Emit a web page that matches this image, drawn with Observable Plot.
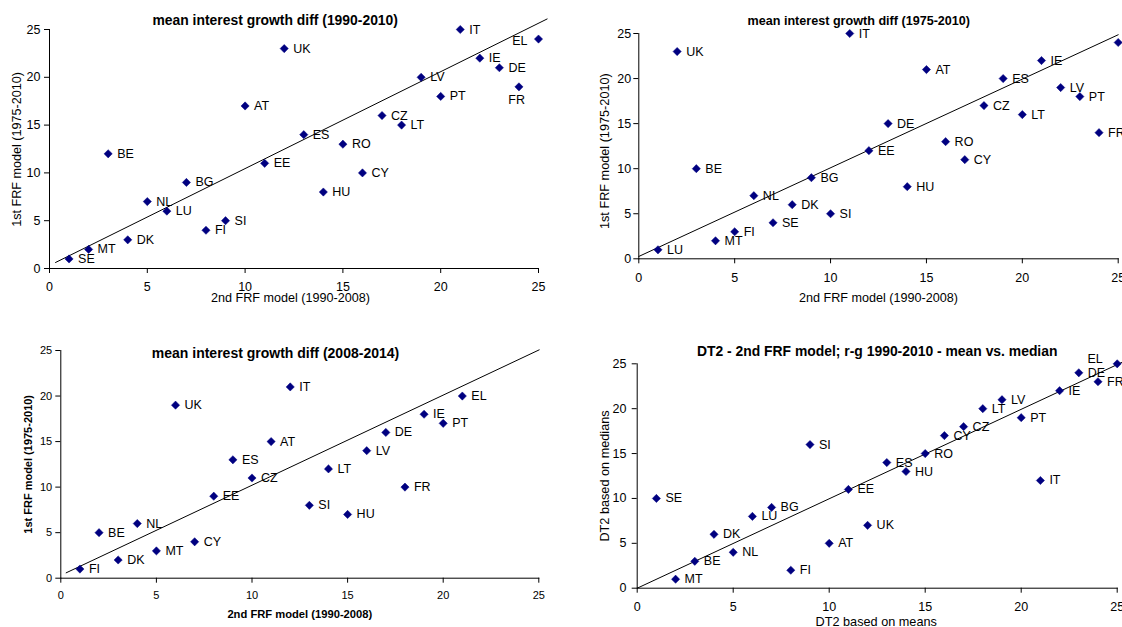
<!DOCTYPE html>
<html>
<head>
<meta charset="utf-8">
<script src="https://cdn.jsdelivr.net/npm/d3@7"></script>
<script src="https://cdn.jsdelivr.net/npm/@observablehq/plot@0.6"></script>
<style>
  html, body { margin: 0; padding: 0; background: #fff; }
  #wrap { position: relative; width: 1122px; height: 627px; overflow: hidden; background: #fff; }
  .panel { position: absolute; }
</style>
</head>
<body>
<div id="wrap"></div>
<script>
// ---------- DATA ----------
const ticks = [0, 5, 10, 15, 20, 25];

// Panel 1: mean interest growth diff (1990-2010)
const countries1 = ["SE","MT","BE","DK","NL","LU","BG","FI","SI","AT","EE","UK","ES","HU","RO","CY","CZ","LT","LV","PT","IT","IE","DE","FR","EL"];
const xs1 = [1,2,3,4,5,6,7,8,9,10,11,12,13,14,15,16,17,18,19,20,21,22,23,24,25];
const ys1 = [1,2,12,3,7,6,9,4,5,17,11,23,14,8,13,10,16,15,20,18,25,22,21,19,24];
const lineX1 = [0.31, 25.44];
const lineY1 = [0.63, 26.1];

// Panel 2: mean interest growth diff (1975-2010)
const countries2 = ["LU","UK","BE","MT","FI","NL","SE","DK","BG","SI","IT","EE","DE","HU","AT","RO","CY","CZ","ES","LT","IE","LV","PT","FR","EL"];
const xs2 = [1,2,3,4,5,6,7,8,9,10,11,12,13,14,15,16,17,18,19,20,21,22,23,24,25];
const ys2 = [1,23,10,2,3,7,4,6,9,5,25,12,15,8,21,13,11,17,20,16,22,19,18,14,24];
const lineX2 = [0, 25];
const lineY2 = [0.26, 24.86];

// Panel 3: mean interest growth diff (2008-2014)
const countries3 = ["FI","BE","DK","NL","MT","UK","CY","EE","ES","CZ","AT","IT","SI","LT","HU","LV","DE","FR","IE","PT","EL"];
const xs3 = [1,2,3,4,5,6,7,8,9,10,11,12,13,14,15,16,17,18,19,20,21];
const ys3 = [1,5,2,6,3,19,4,9,13,11,15,21,8,12,7,14,16,10,18,17,20];
const lineX3 = [0.28, 25.02];
const lineY3 = [0.59, 25.07];

// Panel 4: DT2 - 2nd FRF model; r-g 1990-2010 - mean vs. median
const countries4 = ["SE","MT","BE","DK","NL","LU","BG","FI","SI","AT","EE","UK","ES","HU","RO","CY","CZ","LT","LV","PT","IT","IE","DE","FR","EL"];
const xs4 = [1,2,3,4,5,6,7,8,9,10,11,12,13,14,15,16,17,18,19,20,21,22,23,24,25];
const ys4 = [10,1,3,6,4,8,9,2,16,5,11,7,14,13,15,17,18,20,21,19,12,22,24,23,25];
const lineX4 = [0, 25.26];
const lineY4 = [0, 25.17];

// ---------- TEXTS ----------
const titles = [
  "mean interest growth diff (1990-2010)",
  "mean interest growth diff (1975-2010)",
  "mean interest growth diff (2008-2014)",
  "DT2 - 2nd FRF model; r-g 1990-2010 - mean vs. median"
];
const xLabels = ["2nd FRF model (1990-2008)", "2nd FRF model (1990-2008)", "2nd FRF model (1990-2008)", "DT2 based on means"];
const yLabels = ["1st FRF model (1975-2010)", "1st FRF model (1975-2010)", "1st FRF model (1975-2010)", "DT2 based on medians"];

// ---------- LAYOUT / STYLE ----------
const FONT = "'Liberation Sans', Arial, Helvetica, sans-serif";
const NAVY = "#000080";

const panels = [
  {countries: countries1, xs: xs1, ys: ys1, lx: lineX1, ly: lineY1,
   left: 0, top: 0, width: 561, height: 313,
   margin: {l: 49, r: 23, t: 29, b: 45},
   tickFont: 12.5, xTickGap: 13.5, yTickGap: 9,
   title: {dx: -18.8, dy: -9, size: 13.9},
   xl: {dx: -3.5, dy: 29.5, size: 12.6, bold: false},
   yl: {dx: -32.3, dy: 0.5, size: 12.6, bold: false},
   overrides: {EL: {anchor: "end", dx: -11, dy: 2.4}, FR: {anchor: "middle", dx: -2.3, dy: 13.3}}},
  {countries: countries2, xs: xs2, ys: ys2, lx: lineX2, ly: lineY2,
   left: 561, top: 0, width: 561, height: 313,
   margin: {l: 77.3, r: 4.3, t: 33, b: 54.7},
   tickFont: 12.5, xTickGap: 14, yTickGap: 7.6,
   title: {dx: -19.7, dy: -13, size: 12.6},
   xl: {dx: 0, dy: 39.4, size: 12.6, bold: false},
   yl: {dx: -34, dy: 5, size: 12.7, bold: false},
   overrides: {}},
  {countries: countries3, xs: xs3, ys: ys3, lx: lineX3, ly: lineY3,
   left: 0, top: 313, width: 561, height: 314,
   margin: {l: 60.3, r: 22.7, t: 37, b: 49.3},
   tickFont: 11, xTickGap: 12.7, yTickGap: 8.6,
   title: {dx: -24.3, dy: 2.7, size: 14},
   xl: {dx: 0, dy: 36.6, size: 11.2, bold: true},
   yl: {dx: -32, dy: 0, size: 11, bold: true},
   overrides: {}},
  {countries: countries4, xs: xs4, ys: ys4, lx: lineX4, ly: lineY4,
   left: 561, top: 313, width: 561, height: 314,
   margin: {l: 75.7, r: 5.3, t: 50.3, b: 39.3},
   tickFont: 12.5, xTickGap: 13.7, yTickGap: 10.7,
   title: {dx: 0, dy: -12.6, size: 13.9},
   xl: {dx: -1, dy: 33.3, size: 12.7, bold: false},
   yl: {dx: -32.4, dy: 0, size: 12.7, bold: false},
   overrides: {EL: {anchor: "end", dx: -14.4, dy: -5}}}
];

const wrap = document.getElementById("wrap");

panels.forEach((p, i) => {
  const pts = p.countries.map((c, k) => ({c, x: p.xs[k], y: p.ys[k]}));
  const trend = p.lx.map((x, k) => ({x, y: p.ly[k]}));
  const normal = pts.filter(d => !p.overrides[d.c]);
  const special = pts.filter(d => p.overrides[d.c]);
  const tickSize = 5;

  const marks = [
    Plot.line(trend, {x: "x", y: "y", stroke: "#000", strokeWidth: 1}),
    Plot.dot(pts, {x: "x", y: "y", symbol: "diamond2", r: 3.7, fill: NAVY, stroke: NAVY, strokeWidth: 0.5}),
    Plot.text(normal, {x: "x", y: "y", text: "c", dx: 9, textAnchor: "start", lineAnchor: "middle", fontSize: 12.5, fill: "#000"})
  ];
  special.forEach(d => {
    const o = p.overrides[d.c];
    marks.push(Plot.text([d], {x: "x", y: "y", text: "c", dx: o.dx, dy: o.dy, textAnchor: o.anchor, lineAnchor: "middle", fontSize: 12.5, fill: "#000"}));
  });
  marks.push(
    Plot.text([titles[i]], {text: d => d, frameAnchor: "top", textAnchor: "middle", lineAnchor: "middle", dx: p.title.dx, dy: p.title.dy, fontWeight: "bold", fontSize: p.title.size, fill: "#000"}),
    Plot.text([xLabels[i]], {text: d => d, frameAnchor: "bottom", textAnchor: "middle", lineAnchor: "middle", dx: p.xl.dx, dy: p.xl.dy, fontWeight: p.xl.bold ? "bold" : "normal", fontSize: p.xl.size, fill: "#000"}),
    Plot.text([yLabels[i]], {text: d => d, frameAnchor: "left", textAnchor: "middle", lineAnchor: "middle", rotate: -90, dx: p.yl.dx, dy: p.yl.dy, fontWeight: p.yl.bold ? "bold" : "normal", fontSize: p.yl.size, fill: "#000"})
  );

  const svg = Plot.plot({
    width: p.width,
    height: p.height,
    marginLeft: p.margin.l,
    marginRight: p.margin.r,
    marginTop: p.margin.t,
    marginBottom: p.margin.b,
    style: {fontFamily: FONT, fontSize: p.tickFont + "px", color: "#000", background: "transparent", overflow: "visible"},
    x: {domain: [0, 25], ticks: ticks, tickSize: tickSize, tickPadding: p.xTickGap - tickSize, label: null, line: true, tickFormat: d3.format("d")},
    y: {domain: [0, 25], ticks: ticks, tickSize: tickSize, tickPadding: p.yTickGap - tickSize, label: null, line: true, tickFormat: d3.format("d")},
    marks
  });
  const div = document.createElement("div");
  div.className = "panel";
  div.style.left = p.left + "px";
  div.style.top = p.top + "px";
  div.style.width = p.width + "px";
  div.style.height = p.height + "px";
  div.appendChild(svg);
  wrap.appendChild(div);
});
</script>
</body>
</html>
